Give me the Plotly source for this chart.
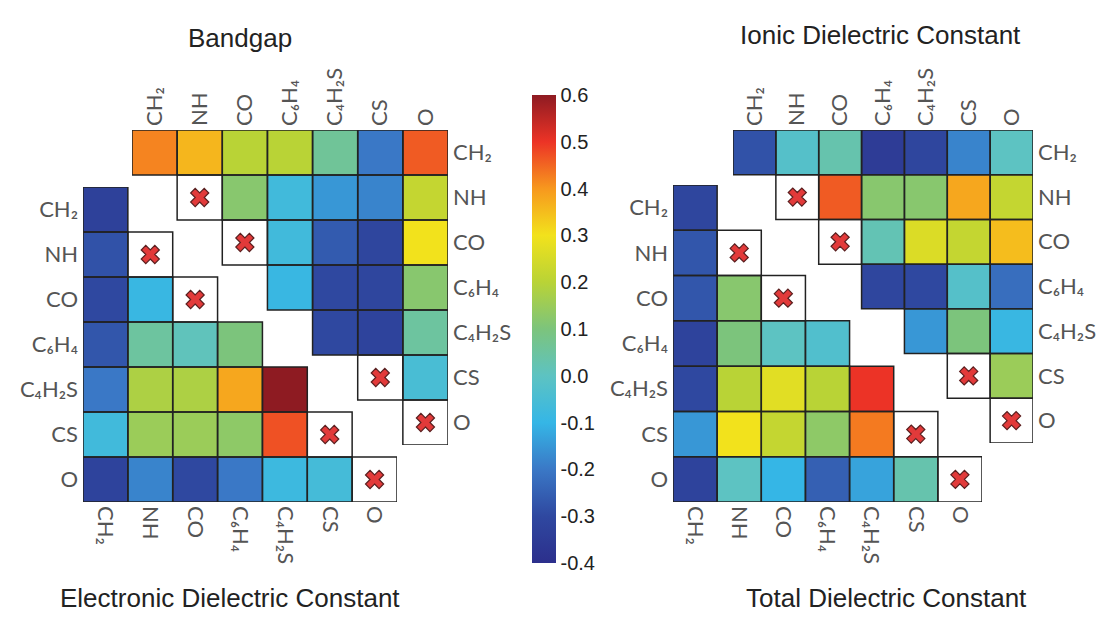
import plotly.graph_objects as go

# target page size; the browser's default 8px body margin is compensated below
PAGE_W, PAGE_H = 1117, 623
OFF = 8
W, H = PAGE_W - OFF, PAGE_H - OFF

labels = ["CH₂", "NH", "CO", "C₆H₄", "C₄H₂S", "CS", "O"]
N = None

# Upper triangles (row i, col j >= i); None = no value
bandgap = [
    [0.42, 0.36, 0.20, 0.20, 0.06, -0.20, 0.46],
    [N, N, 0.12, -0.07, -0.15, -0.18, 0.22],
    [N, N, N, -0.07, -0.26, -0.31, 0.30],
    [N, N, N, -0.09, -0.30, -0.31, 0.12],
    [N, N, N, N, -0.30, -0.32, 0.05],
    [N, N, N, N, N, N, -0.05],
    [N, N, N, N, N, N, N],
]
ionic = [
    [-0.28, -0.02, 0.03, -0.35, -0.31, -0.18, 0.00],
    [N, N, 0.46, 0.12, 0.12, 0.38, 0.22],
    [N, N, N, 0.02, 0.26, 0.22, 0.35],
    [N, N, N, -0.31, -0.30, -0.02, -0.22],
    [N, N, N, N, -0.15, 0.10, -0.09],
    [N, N, N, N, N, N, 0.15],
    [N, N, N, N, N, N, N],
]
# Lower triangles (row i, col j <= i)
electronic = [
    [-0.33, N, N, N, N, N, N],
    [-0.28, N, N, N, N, N, N],
    [-0.30, -0.09, N, N, N, N, N],
    [-0.27, 0.05, 0.01, 0.10, N, N, N],
    [-0.20, 0.18, 0.18, 0.38, 0.60, N, N],
    [-0.07, 0.15, 0.15, 0.13, 0.47, N, N],
    [-0.32, -0.18, -0.30, -0.20, -0.08, -0.06, N],
]
total = [
    [-0.31, N, N, N, N, N, N],
    [-0.27, N, N, N, N, N, N],
    [-0.27, 0.12, N, N, N, N, N],
    [-0.32, 0.10, 0.00, -0.03, N, N, N],
    [-0.30, 0.20, 0.27, 0.20, 0.50, N, N],
    [-0.15, 0.30, 0.22, 0.13, 0.43, N, N],
    [-0.32, 0.00, -0.10, -0.25, -0.13, 0.03, N],
]
unstable = ["NH", "CO", "CS", "O"]  # diagonal cells marked with a cross

cbar_vals = [-0.4, -0.3, -0.2, -0.1, 0.0, 0.1, 0.2, 0.3, 0.4, 0.5, 0.6]
cbar_text = ["-0.4", "-0.3", "-0.2", "-0.1", "0.0", "0.1", "0.2", "0.3", "0.4", "0.5", "0.6"]

colorscale = [
    [0.00, "#2c2f8c"],
    [0.10, "#2f48a0"],
    [0.20, "#3a78c6"],
    [0.30, "#35b6e6"],
    [0.40, "#5dc3c2"],
    [0.50, "#7cc47c"],
    [0.60, "#b9d336"],
    [0.70, "#f2e21c"],
    [0.80, "#f7981e"],
    [0.90, "#ec3326"],
    [1.00, "#8e1b22"],
]


def px(a):
    return (a - OFF) / W


def py(a):
    return 1 - (a - OFF) / H


def xd(a, b):
    return [px(a), px(b)]


def yd(top, bottom):
    return [py(bottom), py(top)]


panels = [
    # (matrix, axis suffix, xdomain, ydomain, upper?)
    (electronic, "", xd(83, 397), yd(187, 502), False),
    (bandgap, "2", xd(132, 448), yd(130, 445), True),
    (total, "3", xd(673, 982), yd(185, 502), False),
    (ionic, "4", xd(733, 1033), yd(130, 443), True),
]

fig = go.Figure()
shapes = []
tick_font = dict(family="Lato, Open Sans, sans-serif", size=22, color="#555555")
idx = list(range(len(labels)))

for mat, s, xdom, ydom, upper in panels:
    xa = "x" + s
    ya = "y" + s
    fig.add_trace(go.Heatmap(
        z=mat, x=idx, y=idx, coloraxis="coloraxis",
        xaxis=xa, yaxis=ya, hoverongaps=False,
    ))
    # crosses on unstable diagonal cells
    cx = [labels.index(u) for u in unstable]
    fig.add_trace(go.Scatter(
        x=cx, y=cx, mode="markers", xaxis=xa, yaxis=ya, showlegend=False,
        marker=dict(symbol="x", size=16, color="#e23a3a",
                    line=dict(color="#5a1f1f", width=1.2)),
        hoverinfo="skip",
    ))
    # cell outlines
    for i in idx:
        for j in idx:
            present = (j >= i) if upper else (j <= i)
            if not present:
                continue
            shapes.append(dict(
                type="rect", xref=xa, yref=ya,
                x0=j - 0.5, x1=j + 0.5, y0=i - 0.5, y1=i + 0.5,
                line=dict(color="#222222", width=1.5),
                fillcolor="rgba(0,0,0,0)", layer="above",
            ))
    axx = dict(domain=xdom, range=[-0.5, 6.5], anchor=ya, tickvals=idx, ticktext=labels,
               showgrid=False, zeroline=False, showline=False, ticks="",
               tickfont=tick_font, side="top" if upper else "bottom",
               tickangle=-90 if upper else 90, fixedrange=True, ticklabelstandoff=3)
    axy = dict(domain=ydom, range=[6.5, -0.5], anchor=xa, tickvals=idx, ticktext=labels,
               showgrid=False, zeroline=False, showline=False, ticks="",
               tickfont=tick_font, side="right" if upper else "left", fixedrange=True,
               ticklabelstandoff=4)
    fig.update_layout(**{"xaxis" + s: axx, "yaxis" + s: axy})

title_font = dict(family="Liberation Sans, Arial, sans-serif", size=26, color="#222222")
annotations = [
    dict(text="Bandgap", x=px(240), y=py(38)),
    dict(text="Ionic Dielectric Constant", x=px(881), y=py(35)),
    dict(text="Electronic Dielectric Constant", x=px(230), y=py(598)),
    dict(text="Total Dielectric Constant", x=px(886), y=py(598)),
]
for a in annotations:
    a.update(xref="paper", yref="paper", showarrow=False, font=title_font,
             xanchor="center", yanchor="middle")

fig.update_layout(
    width=W, height=H,
    margin=dict(l=0, r=0, t=0, b=0),
    paper_bgcolor="white",
    plot_bgcolor="rgba(0,0,0,0)",
    shapes=shapes,
    annotations=annotations,
    coloraxis=dict(
        colorscale=colorscale, cmin=-0.4, cmax=0.6,
        colorbar=dict(
            x=px(532), xanchor="left", y=py(329), yanchor="middle",
            lenmode="pixels", len=468, thickness=24, thicknessmode="pixels",
            outlinewidth=0, ticks="", tickvals=cbar_vals, ticktext=cbar_text,
            tickfont=dict(family="Liberation Sans, Arial, sans-serif", size=20, color="#222222"),
            xpad=0, ypad=0,
        ),
    ),
    showlegend=False,
)

fig.write_html("out.html")
